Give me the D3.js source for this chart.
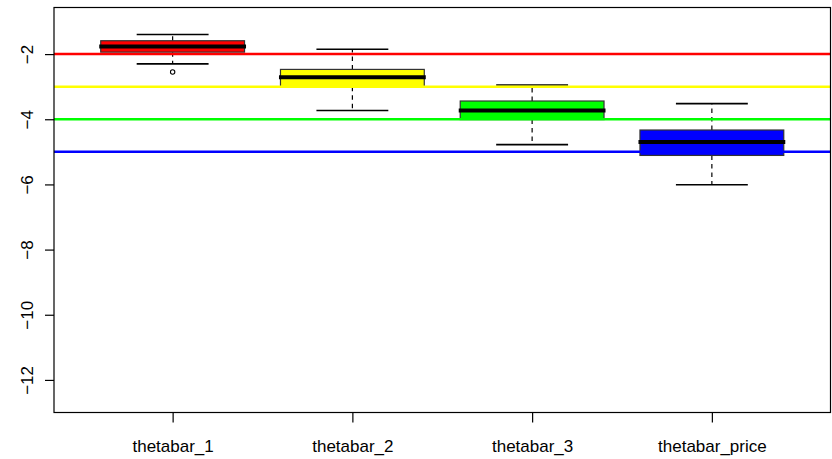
<!DOCTYPE html>
<html>
<head>
<meta charset="utf-8">
<script src="https://cdn.jsdelivr.net/npm/d3@7"></script>
<style>
html, body { margin: 0; padding: 0; background: #fff; }
svg text { font-family: "Liberation Sans", Arial, sans-serif; }
</style>
</head>
<body>
<svg id="chart" width="832" height="459"></svg>
<script>
// ---- data ----
const categories   = ["thetabar_1", "thetabar_2", "thetabar_3", "thetabar_price"];
const whiskerLow   = [-2.30, -3.73, -4.78, -6.01];
const q1           = [-1.94, -3.00, -4.01, -5.11];
const medians      = [-1.77, -2.71, -3.73, -4.70];
const q3           = [-1.59, -2.47, -3.44, -4.33];
const whiskerHigh  = [-1.40, -1.85, -2.95, -3.52];
const outliers     = [[-2.55], [], [], []];
const refLines     = [-2, -3, -4, -5];
const yTicks       = [-12, -10, -8, -6, -4, -2];
const yRange       = [-13.0, -0.57];
const xRange       = [0.34, 4.66];
// ---- styles ----
const boxColors    = ["#ff0000", "#ffff00", "#00ff00", "#0000ff"];
const refColors    = ["#ff0000", "#ffff00", "#00ff00", "#0000ff"];

(function () {
const svg = d3.select("#chart");
const mLeft = 54, mRight = 830.5, mTop = 7.5, mBottom = 412.5;

const x = d3.scaleLinear().domain(xRange).range([mLeft, mRight]);
const y = d3.scaleLinear().domain(yRange).range([mBottom, mTop]);

const boxWidth = 0.8, stapleWidth = 0.4;

svg.append("defs").append("clipPath").attr("id", "clip")
  .append("rect").attr("x", mLeft).attr("y", mTop)
  .attr("width", mRight - mLeft).attr("height", mBottom - mTop);

const plot = svg.append("g").attr("clip-path", "url(#clip)");

categories.forEach((c, i) => {
  const cx = x(i + 1);
  const g = plot.append("g");
  const half = (x(boxWidth) - x(0)) / 2;
  const sHalf = (x(stapleWidth) - x(0)) / 2;
  // whiskers (dashed)
  g.append("line").attr("x1", cx).attr("x2", cx)
    .attr("y1", y(q3[i])).attr("y2", y(whiskerHigh[i]))
    .attr("stroke", "#000").attr("stroke-width", 1.2).attr("stroke-dasharray", "4.5,4");
  g.append("line").attr("x1", cx).attr("x2", cx)
    .attr("y1", y(q1[i])).attr("y2", y(whiskerLow[i]))
    .attr("stroke", "#000").attr("stroke-width", 1.2).attr("stroke-dasharray", "4.5,4");
  // staples
  [whiskerHigh[i], whiskerLow[i]].forEach(v => {
    g.append("line").attr("x1", cx - sHalf).attr("x2", cx + sHalf)
      .attr("y1", y(v)).attr("y2", y(v))
      .attr("stroke", "#000").attr("stroke-width", 1.6);
  });
  // box
  g.append("rect").attr("x", cx - half).attr("y", y(q3[i]))
    .attr("width", 2 * half).attr("height", y(q1[i]) - y(q3[i]))
    .attr("fill", boxColors[i]).attr("stroke", "#333").attr("stroke-width", 1.2);
  // median
  g.append("line").attr("x1", cx - half - 1.5).attr("x2", cx + half + 1.5)
    .attr("y1", y(medians[i])).attr("y2", y(medians[i]))
    .attr("stroke", "#000").attr("stroke-width", 4);
  // outliers
  outliers[i].forEach(v => {
    g.append("circle").attr("cx", cx).attr("cy", y(v)).attr("r", 2.2)
      .attr("fill", "none").attr("stroke", "#000").attr("stroke-width", 1.1);
  });
});

// reference lines
refLines.forEach((v, i) => {
  plot.append("line").attr("x1", mLeft).attr("x2", mRight)
    .attr("y1", y(v)).attr("y2", y(v))
    .attr("stroke", refColors[i]).attr("stroke-width", 2.5);
});

// frame
svg.append("rect").attr("x", mLeft).attr("y", mTop)
  .attr("width", mRight - mLeft).attr("height", mBottom - mTop)
  .attr("fill", "none").attr("stroke", "#000").attr("stroke-width", 1.2);

// y axis
const yAxis = svg.append("g").attr("transform", `translate(${mLeft},0)`)
  .call(d3.axisLeft(y).tickValues(yTicks).tickSize(9).tickFormat(d3.format("d")));
yAxis.select(".domain").remove();
yAxis.selectAll(".tick line").attr("stroke", "#000").attr("stroke-width", 1.2);
yAxis.selectAll(".tick text")
  .attr("font-size", 17).attr("fill", "#000")
  .attr("text-anchor", "middle")
  .attr("x", null).attr("dy", null)
  .attr("transform", "translate(-21,0) rotate(-90)");

// x axis
const xAxis = svg.append("g").attr("transform", `translate(0,${mBottom})`)
  .call(d3.axisBottom(x).tickValues(categories.map((c, i) => i + 1)).tickSize(10)
    .tickFormat((d) => categories[d - 1]));
xAxis.select(".domain").remove();
xAxis.selectAll(".tick line").attr("stroke", "#000").attr("stroke-width", 1.2);
xAxis.selectAll(".tick text")
  .attr("font-size", 17).attr("fill", "#000")
  .attr("y", 39).attr("dy", null);
})();
</script>
</body>
</html>
